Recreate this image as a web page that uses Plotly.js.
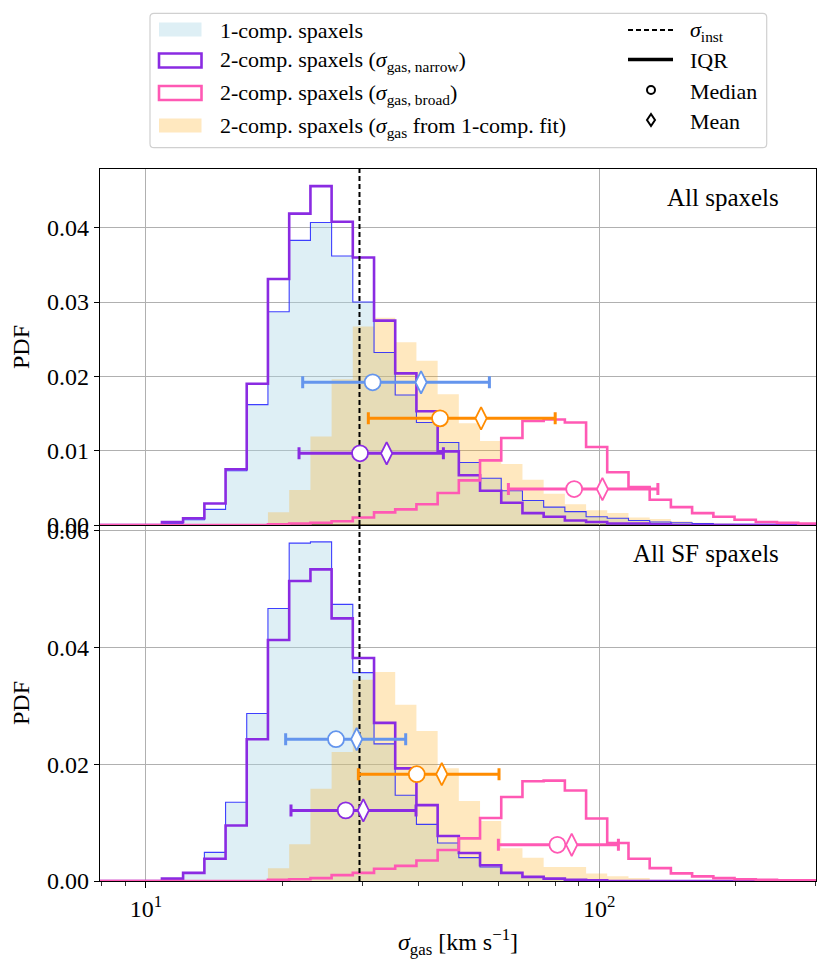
<!DOCTYPE html>
<html><head><meta charset="utf-8">
<script src="https://cdn.plot.ly/plotly-3.0.1.min.js"></script>
<style>html,body{margin:0;padding:0;background:#fff;} #chart{width:830px;height:965px;}</style>
</head><body><div id="chart"></div>
<script>
// ---------------- data ----------------
const binEdges = [7.85, 8.75, 9.74, 10.85, 12.08, 13.46, 14.99, 16.69, 18.59, 20.71, 23.07, 25.69, 28.61, 31.87, 35.49, 39.53, 44.03, 49.03, 54.61, 60.82, 67.74, 75.45, 84.03, 93.60, 104.2, 116.1, 129.3, 144.0, 160.4, 178.7, 199.0, 221.7, 246.9, 275.0, 306.3];

// Top panel: All spaxels
const oneCompTop = [0,0,0, 0.0002,0.0007,0.0021,0.0073,0.0162,0.0287,0.0383,0.0407,0.0362,0.0300,0.0232,0.0175,0.0138,0.0111,0.0084,0.0063,0.0046,0.0033,0.0024,0.0018,0.0011,0.0009,0.0006,0.0004,0.0003,0.0002,0.0001,0.0001,0.0001,0,0];
const narrowTop  = [0,0,0, 0.0004,0.0009,0.0029,0.0075,0.0190,0.0331,0.0419,0.0456,0.0408,0.0360,0.0275,0.0204,0.0153,0.0099,0.0067,0.0046,0.0030,0.0016,0.0011,0.0006,0.0004,0.0002,0.0002,0.0001,0,0,0,0,0,0,0];
const broadTop   = [0,0,0, 0,0,0,0,0, 0.0001,0.0002,0.0003,0.0005,0.0010,0.0017,0.0021,0.0028,0.0043,0.0060,0.0087,0.0117,0.0140,0.0142,0.0138,0.0105,0.0071,0.0051,0.0034,0.0024,0.0016,0.0011,0.0007,0.0004,0.0003,0.0002];
const fitTop     = [0,0,0, 0,0,0,0,0, 0.0017,0.0047,0.0119,0.0196,0.0267,0.0279,0.0246,0.0221,0.0176,0.0137,0.0113,0.0082,0.0061,0.0042,0.0028,0.0020,0.0016,0.0010,0.0008,0.0005,0.0003,0.0002,0.0001,0,0,0];

// Bottom panel: All SF spaxels
const oneCompBot = [0,0,0, 0.0003,0.0013,0.0049,0.0135,0.0287,0.0467,0.0579,0.0581,0.0474,0.0357,0.0235,0.0147,0.0097,0.0065,0.0040,0.0024,0.0013,0.0007,0.0004,0.0002,0.0001,0,0,0,0,0,0,0,0,0,0];
const narrowBot  = [0,0,0, 0.0004,0.0014,0.0038,0.0095,0.0243,0.0413,0.0514,0.0534,0.0450,0.0382,0.0271,0.0193,0.0130,0.0077,0.0048,0.0027,0.0014,0.0007,0.0004,0.0002,0.0001,0,0,0,0,0,0,0,0,0,0];
const broadBot   = [0,0,0, 0,0,0,0,0, 0.0002,0.0003,0.0005,0.0010,0.0014,0.0021,0.0026,0.0035,0.0053,0.0073,0.0108,0.0144,0.0171,0.0172,0.0155,0.0107,0.0065,0.0038,0.0022,0.0013,0.0008,0.0005,0.0003,0.0002,0.0001,0.0001];
const fitBot     = [0,0,0, 0,0,0,0,0, 0.0022,0.0063,0.0158,0.0221,0.0345,0.0358,0.0302,0.0257,0.0193,0.0137,0.0103,0.0056,0.0040,0.0024,0.0024,0.0013,0.0008,0.0005,0.0002,0.0001,0,0,0,0,0,0];

// Summary statistics, order: 1-comp, 1-comp fit of 2-comp, narrow, broad
const iqrLowTop  = [22.18, 30.96, 21.77, 63.07];
const medianTop  = [31.65, 44.57, 29.68, 88.1];
const meanTop    = [40.47, 54.9, 33.98, 101.7];
const iqrHighTop = [57.27, 80.0, 45.33, 134.8];
const statYTop   = [0.0192, 0.01435, 0.00965, 0.00484];

const iqrLowBot  = [20.34, 29.43, 20.9, 59.94];
const medianBot  = [26.27, 39.6, 27.6, 80.9];
const meanBot    = [29.18, 44.96, 30.18, 87.0];
const iqrHighBot = [37.43, 60.14, 39.45, 110.3];
const statYBot   = [0.0243, 0.0183, 0.0121, 0.0062];

const sigmaInst = 29.6;

const panelLabels = ['All spaxels', 'All SF spaxels'];
const legendLabels = [
  '1-comp. spaxels',
  '2-comp. spaxels (<i>σ</i><sub>gas, narrow</sub>)',
  '2-comp. spaxels (<i>σ</i><sub>gas, broad</sub>)',
  '2-comp. spaxels (<i>σ</i><sub>gas</sub> from 1-comp. fit)'
];
const legendLabels2 = ['<i>σ</i><sub>inst</sub>', 'IQR', 'Median', 'Mean'];
const xTickVals = [10, 100];
const xTickText = ['10<sup>1</sup>', '10<sup>2</sup>'];
const xMinorVals = [8, 9, 20, 30, 40, 50, 60, 70, 80, 90, 200, 300];

// ---------------- styles ----------------
const FONT = 'Liberation Serif, DejaVu Serif, serif';
const C_BLUEFILL = 'rgba(173,216,230,0.4)';
const C_BLUELINE = 'rgba(30,30,255,0.85)';
const C_ORANGEFILL = 'rgba(255,165,0,0.25)';
const C_PURPLE = '#8a2be2';
const C_PINK = '#ff59b4';
const statColors = ['#6495ed', '#ff8c00', '#8a2be2', '#ff59b4'];

function stepXY(edges, vals) {
  const x = [], y = [];
  for (let i = 0; i < vals.length; i++) { x.push(edges[i]); y.push(vals[i]); }
  x.push(edges[vals.length]); y.push(vals[vals.length - 1]);
  return {x, y};
}

function panelTraces(xa, ya, oneComp, narrow, broad, fit, lo, med, mn, hi, sy) {
  const t = [];
  const s1 = stepXY(binEdges, oneComp), s2 = stepXY(binEdges, narrow),
        s3 = stepXY(binEdges, broad), s4 = stepXY(binEdges, fit);
  t.push({x: s1.x, y: s1.y, xaxis: xa, yaxis: ya, type: 'scatter', mode: 'lines',
          line: {shape: 'hv', width: 0, color: 'rgba(0,0,0,0)'}, fill: 'tozeroy', fillcolor: C_BLUEFILL,
          showlegend: false, hoverinfo: 'skip'});
  t.push({x: s4.x, y: s4.y, xaxis: xa, yaxis: ya, type: 'scatter', mode: 'lines',
          line: {shape: 'hv', width: 0, color: 'rgba(0,0,0,0)'}, fill: 'tozeroy', fillcolor: C_ORANGEFILL,
          showlegend: false, hoverinfo: 'skip'});
  t.push({x: s1.x, y: s1.y, xaxis: xa, yaxis: ya, type: 'scatter', mode: 'lines',
          line: {shape: 'hv', width: 1.1, color: C_BLUELINE}, showlegend: false, hoverinfo: 'skip'});
  t.push({x: s2.x, y: s2.y, xaxis: xa, yaxis: ya, type: 'scatter', mode: 'lines',
          line: {shape: 'hv', width: 2.6, color: C_PURPLE}, showlegend: false});
  t.push({x: s3.x, y: s3.y, xaxis: xa, yaxis: ya, type: 'scatter', mode: 'lines',
          line: {shape: 'hv', width: 2.6, color: C_PINK}, showlegend: false});
  // instrumental dispersion
  t.push({x: [sigmaInst, sigmaInst], y: [0, 1], xaxis: xa, yaxis: ya, type: 'scatter', mode: 'lines',
          line: {color: '#000', width: 2, dash: '5px,3px'}, showlegend: false});
  for (let i = 0; i < med.length; i++) {
    t.push({x: [med[i]], y: [sy[i]], xaxis: xa, yaxis: ya, type: 'scatter', mode: 'markers',
            error_x: {type: 'data', symmetric: false, array: [hi[i] - med[i]], arrayminus: [med[i] - lo[i]],
                      color: statColors[i], thickness: 3, width: 6},
            marker: {symbol: 'circle', size: 16, color: '#fff', line: {color: statColors[i], width: 1.8}},
            showlegend: false});
    t.push({x: [mn[i]], y: [sy[i]], xaxis: xa, yaxis: ya, type: 'scatter', mode: 'markers',
            marker: {symbol: 'diamond-tall', size: 16, color: '#fff', line: {color: statColors[i], width: 1.8}},
            showlegend: false});
  }
  return t;
}

const data = [].concat(
  panelTraces('x2', 'y2', oneCompTop, narrowTop, broadTop, fitTop, iqrLowTop, medianTop, meanTop, iqrHighTop, statYTop),
  panelTraces('x', 'y', oneCompBot, narrowBot, broadBot, fitBot, iqrLowBot, medianBot, meanBot, iqrHighBot, statYBot)
);

// ---------------- layout ----------------
const W = 830, H = 965, ML = 100, MR = 14, MT = 169, MB = 84;
const px = v => (v - ML) / (W - ML - MR);
const py = v => (H - MB - v) / (H - MT - MB);
const xr = [Math.log10(7.92), Math.log10(301)];

const axBase = {
  showline: true, linecolor: '#000', linewidth: 1.3, mirror: true,
  showgrid: true, gridcolor: '#b0b0b0', gridwidth: 1, zeroline: false,
  ticks: 'outside', ticklen: 5, tickwidth: 1, tickcolor: '#000',
  tickfont: {family: FONT, size: 24, color: '#000'}
};

const shapes = [];
const annotations = [];

// legend frame (rounded)
(function(){
  const x0 = px(150), x1 = px(766.7), y0 = py(13.3), y1 = py(147.7);
  const rx = 4 / (W - ML - MR), ry = 4 / (H - MT - MB);
  const p = `M${x0+rx},${y0} L${x1-rx},${y0} Q${x1},${y0} ${x1},${y0-ry} L${x1},${y1+ry} Q${x1},${y1} ${x1-rx},${y1} L${x0+rx},${y1} Q${x0},${y1} ${x0},${y1+ry} L${x0},${y0-ry} Q${x0},${y0} ${x0+rx},${y0} Z`;
  shapes.push({type: 'path', xref: 'paper', yref: 'paper', path: p, line: {color: '#d0d0d0', width: 1.2}, fillcolor: 'rgba(255,255,255,0.8)'});
})();

const rowY = [29.5, 60.5, 93, 125.5];
const patchStyles = [
  {fillcolor: C_BLUEFILL, line: {width: 0}},
  {fillcolor: 'rgba(0,0,0,0)', line: {color: C_PURPLE, width: 2.6}},
  {fillcolor: 'rgba(0,0,0,0)', line: {color: C_PINK, width: 2.6}},
  {fillcolor: C_ORANGEFILL, line: {width: 0}}
];
for (let i = 0; i < 4; i++) {
  shapes.push(Object.assign({type: 'rect', xref: 'paper', yref: 'paper',
    x0: px(159), x1: px(201.5), y0: py(rowY[i] - 7), y1: py(rowY[i] + 7)}, patchStyles[i]));
  annotations.push({xref: 'paper', yref: 'paper', x: px(218), y: py(rowY[i] + 1), xanchor: 'left', yanchor: 'middle',
    text: legendLabels[i], showarrow: false, font: {family: FONT, size: 22, color: '#000'}});
}
const rowY2 = [30, 59.5, 90, 120];
shapes.push({type: 'line', xref: 'paper', yref: 'paper', x0: px(628), x1: px(673), y0: py(rowY2[0]), y1: py(rowY2[0]),
  line: {color: '#000', width: 2, dash: '5px,3px'}});
shapes.push({type: 'line', xref: 'paper', yref: 'paper', x0: px(628), x1: px(673), y0: py(rowY2[1]), y1: py(rowY2[1]),
  line: {color: '#000', width: 3.5}});
shapes.push({type: 'circle', xref: 'paper', yref: 'paper', x0: px(647), x1: px(655), y0: py(rowY2[2] - 4), y1: py(rowY2[2] + 4),
  line: {color: '#000', width: 2}, fillcolor: '#fff'});
(function(){
  const cx = 651, cy = rowY2[3];
  const p = `M${px(cx)},${py(cy-6)} L${px(cx+4)},${py(cy)} L${px(cx)},${py(cy+6)} L${px(cx-4)},${py(cy)} Z`;
  shapes.push({type: 'path', xref: 'paper', yref: 'paper', path: p, line: {color: '#000', width: 2}, fillcolor: '#fff'});
})();
for (let i = 0; i < 4; i++) {
  annotations.push({xref: 'paper', yref: 'paper', x: px(688), y: py(rowY2[i] + 1), xanchor: 'left', yanchor: 'middle',
    text: legendLabels2[i], showarrow: false, font: {family: FONT, size: 22, color: '#000'}});
}

// panel labels
annotations.push({xref: 'paper', yref: 'paper', x: px(781), y: py(197), xanchor: 'right', yanchor: 'middle',
  text: panelLabels[0], showarrow: false, font: {family: FONT, size: 25, color: '#000'}});
annotations.push({xref: 'paper', yref: 'paper', x: px(781), y: py(553), xanchor: 'right', yanchor: 'middle',
  text: panelLabels[1], showarrow: false, font: {family: FONT, size: 25, color: '#000'}});

const layout = {
  width: W, height: H,
  margin: {l: ML, r: MR, t: MT, b: MB, pad: 0},
  paper_bgcolor: '#fff', plot_bgcolor: '#fff',
  showlegend: false,
  font: {family: FONT, color: '#000'},
  xaxis: Object.assign({}, axBase, {
    type: 'log', range: xr, anchor: 'y', domain: [0, 1],
    tickmode: 'array', tickvals: xTickVals, ticktext: xTickText, ticklen: 6,
    minor: {tickmode: 'array', tickvals: xMinorVals, ticks: 'outside', ticklen: 3.5, tickwidth: 0.8, tickcolor: '#000', showgrid: false},
    title: {text: '<i>σ</i><sub>gas</sub> [km s<sup>−1</sup>]', font: {family: FONT, size: 24, color: '#000'}, standoff: 12}
  }),
  xaxis2: Object.assign({}, axBase, {
    type: 'log', range: xr, anchor: 'y2', matches: 'x', domain: [0, 1],
    tickmode: 'array', tickvals: xTickVals, ticktext: xTickText, showticklabels: false, ticks: ''
  }),
  yaxis: Object.assign({}, axBase, {
    domain: [0, 0.5], anchor: 'x', range: [0, 0.061],
    tickmode: 'array', tickvals: [0, 0.02, 0.04, 0.06], ticktext: ['0.00', '0.02', '0.04', '0.06'],
    title: {text: 'PDF', font: {family: FONT, size: 24, color: '#000'}, standoff: 10}
  }),
  yaxis2: Object.assign({}, axBase, {
    domain: [0.5, 1], anchor: 'x2', range: [0, 0.0479],
    tickmode: 'array', tickvals: [0, 0.01, 0.02, 0.03, 0.04], ticktext: ['0.00', '0.01', '0.02', '0.03', '0.04'],
    title: {text: 'PDF', font: {family: FONT, size: 24, color: '#000'}, standoff: 10}
  }),
  shapes: shapes,
  annotations: annotations
};

Plotly.newPlot('chart', data, layout, {displayModeBar: false, staticPlot: true});
</script>
</body></html>
